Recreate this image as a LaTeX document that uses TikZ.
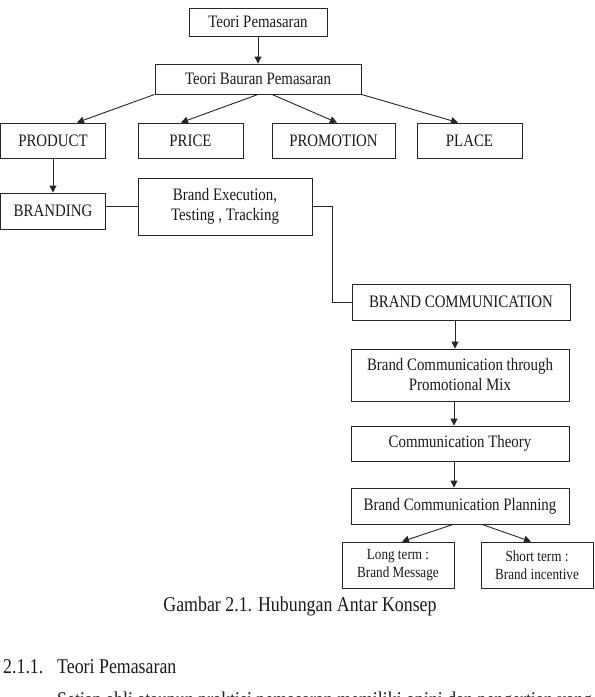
\documentclass[tikz,border=0pt]{standalone}
\usepackage{fontspec}
\setmainfont{Liberation Serif}[FakeStretch=0.85]
\usetikzlibrary{arrows.meta}
\tikzset{
  box/.style={draw=black!85, line width=0.9pt, inner sep=0pt, align=center,
    text=black!90, font=\fontsize{17.5}{20}\selectfont},
  smallbox/.style={box, font=\fontsize{15.5}{18}\selectfont},
  conn/.style={draw=black!85, line width=0.9pt},
  arr/.style={conn, -{Triangle[length=7pt,width=7pt]}},
  plaintext/.style={inner sep=0pt, text=black!90, font=\fontsize{21}{24}\selectfont}
}
\begin{document}
\begin{tikzpicture}[x=1pt,y=-1pt]
\clip (0,0) rectangle (595,697);
\useasboundingbox (0,0) rectangle (595,697);
% boxes
\node[box, minimum width=138pt, minimum height=28pt] (tp) at (258,22) {Teori Pemasaran};
\node[box, minimum width=206pt, minimum height=30pt] (tb) at (258,79) {Teori Bauran Pemasaran};
\node[box, minimum width=105pt, minimum height=35pt] (product) at (53,140.5) {PRODUCT};
\node[box, minimum width=105pt, minimum height=35pt] (price) at (190.5,140.5) {PRICE};
\node[box, minimum width=123pt, minimum height=35pt] (promotion) at (333.5,140.5) {PROMOTION};
\node[box, minimum width=105pt, minimum height=35pt] (place) at (469.5,140.5) {PLACE};
\node[box, minimum width=105pt, minimum height=36pt] (branding) at (53,211) {BRANDING};
\node[box, minimum width=174pt, minimum height=57pt] (exec) at (225,206.5) {Brand Execution,\\Testing , Tracking};
\node[box, minimum width=218pt, minimum height=36pt] (bc) at (461,302) {BRAND COMMUNICATION};
\node[box, minimum width=218pt, minimum height=52pt] (bct) at (460,375) {Brand Communication through\\Promotional Mix};
\node[box, minimum width=218pt, minimum height=35pt] (ct) at (460,443.5) {Communication Theory};
\node[box, minimum width=218pt, minimum height=36pt] (bcp) at (460,506) {Brand Communication Planning};
\node[smallbox, minimum width=112pt, minimum height=46pt] (lt) at (398,565) {Long term :\\Brand Message};
\node[smallbox, minimum width=112pt, minimum height=46pt] (st) at (537,565) {Short term :\\Brand incentive};
% connectors
\draw[arr] (tp.south) -- (tb.north);
\draw[arr] (tb.south west) -- ([xshift=24pt]product.north);
\draw[arr] (tb.south) -- ([xshift=-9.5pt]price.north);
\draw[arr] ([xshift=14pt]tb.south) -- ([xshift=3.5pt]promotion.north);
\draw[arr] (tb.south east) -- ([xshift=-11.5pt]place.north);
\draw[arr] (product.south) -- (branding.north);
\draw[conn] (exec.west) -- (exec.west -| branding.east);
\draw[conn] (exec.east) -- ++(20,0) |- (bc.west);
\draw[arr] ([xshift=-6pt]bc.south) -- ([xshift=-5pt]bct.north);
\draw[arr] ([xshift=-6pt]bct.south) -- ([xshift=-6pt]ct.north);
\draw[arr] ([xshift=-6pt]ct.south) -- ([xshift=-6pt]bcp.north);
\draw[arr] ([xshift=-7pt]bcp.south) -- ([xshift=4pt]lt.north);
\draw[arr] ([xshift=22pt]bcp.south) -- ([xshift=-6pt]st.north);
% texts
\node[plaintext, anchor=base] (cap) at (300,611) {Gambar 2.1. Hubungan Antar Konsep};
\node[plaintext, anchor=base west] (secnum) at (3,673) {2.1.1.};
\node[plaintext, anchor=base west] (sectitle) at (57,673) {Teori Pemasaran};
\node[plaintext, anchor=base west] (body) at (57,706) {Setiap ahli ataupun praktisi pemasaran memiliki opini dan pengertian yang};
\end{tikzpicture}
\end{document}
